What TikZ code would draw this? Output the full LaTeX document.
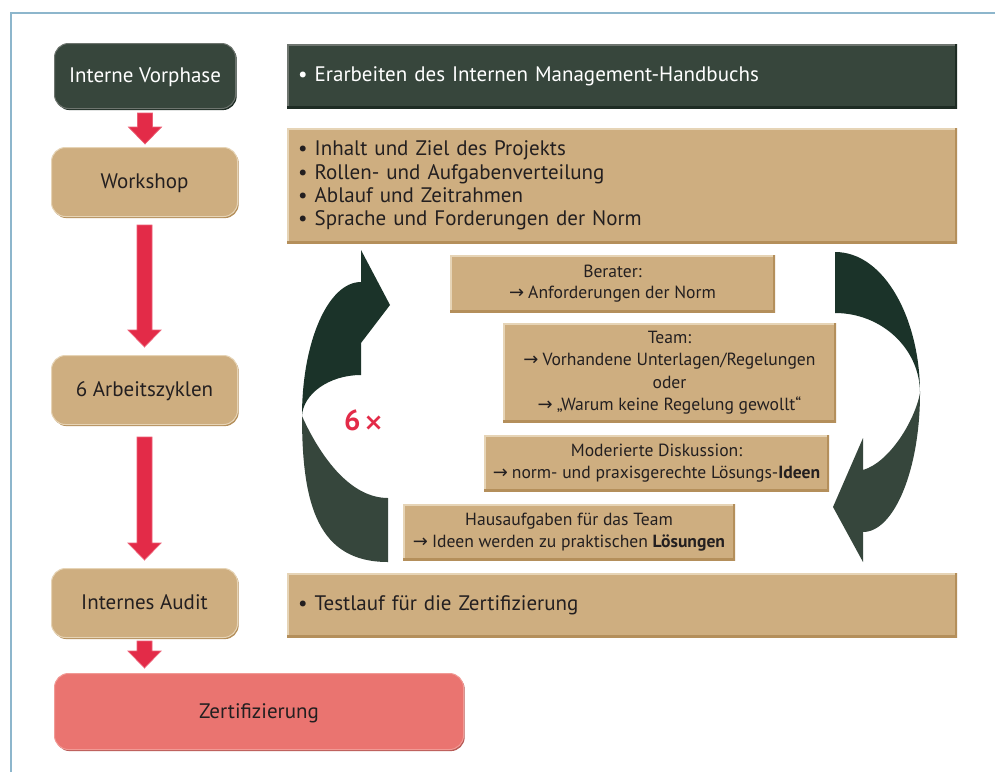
\documentclass[tikz,border=0pt]{standalone}
\usepackage{fontspec}
\setmainfont{PT Sans}
\newfontfamily\arrowfont{DejaVu Sans}
\usetikzlibrary{calc}
\definecolor{dgreen}{HTML}{37463C}
\definecolor{dgreenlight}{HTML}{6E756F}
\definecolor{dgreendark}{HTML}{1E2C24}
\definecolor{cycdark}{HTML}{1B3329}
\definecolor{cyclight}{HTML}{36463C}
\definecolor{tan}{HTML}{CEAE80}
\definecolor{tanlight}{HTML}{E6D4B6}
\definecolor{tandark}{HTML}{B48F5B}
\definecolor{redA}{HTML}{E32B48}
\definecolor{redEdge}{HTML}{EC6076}
\definecolor{zert}{HTML}{EA7470}
\definecolor{zertdark}{HTML}{B85B57}
\definecolor{zertlight}{HTML}{F19A95}
\definecolor{framec}{HTML}{8DB6CC}
\definecolor{txt}{HTML}{231F20}
\newcommand{\ra}{{\arrowfont\fontsize{18}{18}\selectfont →}\hspace{4pt}}
\newcommand{\mainsize}{\fontsize{21}{23.3}\selectfont}
\newcommand{\smallsize}{\fontsize{17.6}{22.5}\selectfont}
\newcommand{\blockarrow}[2]{%
  \filldraw[fill=redA,draw=redEdge,line width=0.7pt] let \p1=(#1), \p2=(#2) in
    (\x1-7.5pt,\y1) -- (\x1+7.5pt,\y1) -- (\x1+7.5pt,\y2+17pt) -- (\x1+16.5pt,\y2+17pt)
    -- (\x1,\y2) -- (\x1-16.5pt,\y2+17pt) -- (\x1-7.5pt,\y2+17pt) -- cycle;}
\tikzset{
  tanrect/.style={fill=tan, text=txt, anchor=north west,
    path picture={
      \draw[tanlight,line width=4pt] (path picture bounding box.south west) -- (path picture bounding box.north west) -- (path picture bounding box.north east);
      \draw[tandark,line width=4pt] (path picture bounding box.north east) -- (path picture bounding box.south east) -- (path picture bounding box.south west);}},
  smallbox/.style={fill=tan, text=txt, align=center, font=\smallsize,
    path picture={
      \draw[tanlight,line width=4pt] (path picture bounding box.south west) -- (path picture bounding box.north west) -- (path picture bounding box.north east);
      \draw[tandark,line width=4pt] (path picture bounding box.north east) -- (path picture bounding box.south east) -- (path picture bounding box.south west);}},
  darkrect/.style={fill=dgreen, text=white, anchor=north west,
    path picture={
      \draw[dgreenlight,line width=4pt] (path picture bounding box.south west) -- (path picture bounding box.north west) -- (path picture bounding box.north east);
      \draw[dgreendark,line width=4pt] (path picture bounding box.north east) -- (path picture bounding box.south east) -- (path picture bounding box.south west);}},
  rbox/.style={rounded corners=14pt, anchor=north west, align=center, font=\mainsize, inner sep=0pt, text depth=1pt},
  tanround/.style={rbox, fill=tan, text=txt, draw=tanlight, line width=1pt,
    preaction={fill=tandark, transform canvas={shift={(1.2pt,-1.6pt)}}}},
  darkround/.style={rbox, fill=dgreen, text=white, draw=dgreenlight, line width=1pt,
    preaction={fill=dgreendark, transform canvas={shift={(1.2pt,-1.6pt)}}}},
  zertround/.style={rbox, fill=zert, text=txt, draw=zertlight, line width=1pt,
    preaction={fill=zertdark, transform canvas={shift={(1.2pt,-1.6pt)}}}},
  listbox/.style={tanrect, align=left, font=\mainsize, inner xsep=11pt, text width=648pt, minimum width=670pt}
}
\begin{document}
\begin{tikzpicture}[x=1pt,y=-1pt]
\useasboundingbox (0,0) rectangle (995,772);
\fill[white] (0,0) rectangle (995,772);
\draw[framec, line width=2pt] (11,772) -- (11,13) -- (995,13);

% left column
\node[darkround, minimum width=181pt, minimum height=65pt] (ivp) at (54,43) {Interne Vorphase};
\node[tanround, minimum width=186pt, minimum height=69pt] (ws) at (51,147) {Workshop};
\node[tanround, minimum width=186pt, minimum height=69pt] (az) at (51,355) {6 Arbeitszyklen};
\node[tanround, minimum width=186pt, minimum height=69pt] (ia) at (51,568) {Internes Audit};
\node[zertround, minimum width=409pt, minimum height=76pt] (zt) at (54,673) {Zertifizierung};

\blockarrow{$(ivp.south)+(0,4)$}{$(ws.north)+(0,-3)$}
\blockarrow{$(ws.south)+(0,8)$}{$(az.north)+(0,-8)$}
\blockarrow{$(az.south)+(0,12)$}{$(ia.north)+(0,-8)$}
\blockarrow{$(ia.south)+(0,3)$}{$(ia.south |- zt.north)+(0,-5)$}

% right column
\node[darkrect, align=left, font=\mainsize, inner xsep=11pt, text width=648pt, minimum width=670pt, minimum height=64pt] (ivpd) at (287,44)
  {• Erarbeiten des Internen Management-Handbuchs};
\node[listbox, minimum height=115pt] (wsd) at (287,128)
  {• Inhalt und Ziel des Projekts\\
   • Rollen- und Aufgabenverteilung\\
   • Ablauf und Zeitrahmen\\
   • Sprache und Forderungen der Norm};
\node[listbox, minimum height=64pt] (iad) at (287,573)
  {• Testlauf für die Zertifizierung};

% cycle boxes
\node[smallbox, minimum width=325pt, minimum height=57pt, font=\fontsize{17.6}{20.5}\selectfont] (ber) at (612.5,283.5)
  {Berater:\\ \ra Anforderungen der Norm};
\node[smallbox, minimum width=333pt, minimum height=99pt] (team) at (669.5,372.5)
  {Team:\\ \ra Vorhandene Unterlagen/Regelungen\\ oder\\ \ra „Warum keine Regelung gewollt“};
\node[smallbox, minimum width=345pt, minimum height=56pt] (mod) at (656.5,463)
  {Moderierte Diskussion:\\ \ra norm- und praxisgerechte Lösungs-\textbf{Ideen}};
\node[smallbox, minimum width=332pt, minimum height=56pt] (haus) at (569,532)
  {Hausaufgaben für das Team\\ \ra Ideen werden zu praktischen \textbf{Lösungen}};

% cycle arrows
\fill[cycdark] (361,282) -- (361,250) -- (390,305) -- (361,343) -- (361,375)
  .. controls (329,375) and (303,394) .. (302,416)
  .. controls (302,342) and (328,282) .. (361,282) -- cycle;
\fill[cyclight] (302,416) .. controls (302,505) and (318,562) .. (388,562)
  -- (388,498) .. controls (345,498) and (315,445) .. (302,416) -- cycle;
\fill[cycdark] (835,252) .. controls (885,252) and (920,320) .. (920,393)
  .. controls (920,349) and (882,313) .. (835,313) -- cycle;
\fill[cyclight] (920,393) .. controls (920,470) and (894,532) .. (863,532)
  -- (863,562) -- (833,507) -- (863,438) -- (863,470)
  .. controls (890,462) and (915,420) .. (920,393) -- cycle;

\node[text=redA, font=\fontsize{29}{29}\selectfont\bfseries] (six) at (364,420) {6\hspace{3pt}{\arrowfont\fontsize{24}{24}\selectfont ×}};
\end{tikzpicture}
\end{document}
